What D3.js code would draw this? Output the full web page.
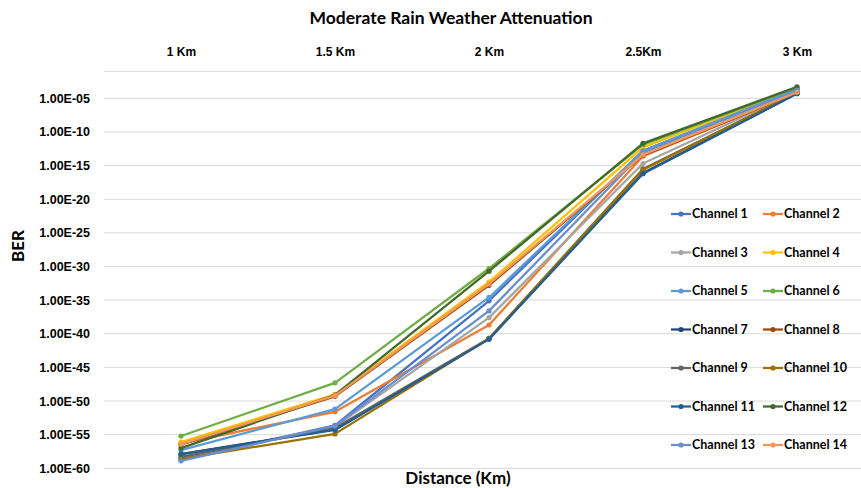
<!DOCTYPE html>
<html>
<head>
<meta charset="utf-8">
<script src="https://cdn.jsdelivr.net/npm/d3@7"></script>
<style>
  body { margin: 0; background: #fff; }
  svg { font-family: Lato, "Open Sans", sans-serif; }
</style>
</head>
<body>
<div id="chart"></div>
<script>
// distances along the top axis
const categories = ['1 Km', '1.5 Km', '2 Km', '2.5Km', '3 Km'];
const channels = ['Channel 1', 'Channel 2', 'Channel 3', 'Channel 4', 'Channel 5', 'Channel 6', 'Channel 7',
  'Channel 8', 'Channel 9', 'Channel 10', 'Channel 11', 'Channel 12', 'Channel 13', 'Channel 14'];

// BER per channel
const ch1  = [2.0e-59, 2.5e-54, 7.9e-36, 1.6e-13, 2.0e-4];
const ch2  = [5.0e-57, 2.5e-52, 2.0e-39, 2.5e-14, 6.3e-5];
const ch3  = [3.2e-59, 1.6e-54, 2.5e-38, 2.0e-15, 1.0e-4];
const ch4  = [7.9e-57, 1.0e-49, 5.0e-33, 5.0e-13, 3.2e-4];
const ch5  = [5.0e-58, 6.3e-52, 2.5e-35, 1.6e-13, 2.5e-4];
const ch6  = [6.3e-56, 5.0e-48, 5.0e-31, 1.3e-12, 4.0e-4];
const ch7  = [1.3e-58, 6.3e-55, 1.6e-41, 7.9e-17, 5.0e-5];
const ch8  = [3.2e-57, 5.0e-50, 1.6e-33, 3.2e-14, 6.3e-5];
const ch9  = [5.0e-59, 1.0e-54, 2.0e-41, 3.2e-16, 6.3e-5];
const ch10 = [2.5e-59, 1.3e-55, 2.0e-41, 2.5e-16, 6.3e-5];
const ch11 = [1.3e-58, 5.0e-55, 1.6e-41, 6.3e-17, 5.0e-5];
const ch12 = [1.0e-57, 7.9e-50, 2.0e-31, 2.0e-12, 5.0e-4];
const ch13 = [1.3e-59, 2.0e-54, 2.5e-37, 7.9e-14, 1.6e-4];
const ch14 = [4.0e-57, 6.3e-50, 2.5e-33, 4.0e-14, 7.9e-5];
const seriesValues = [ch1, ch2, ch3, ch4, ch5, ch6, ch7, ch8, ch9, ch10, ch11, ch12, ch13, ch14];

const yTicks = [1e-5, 1e-10, 1e-15, 1e-20, 1e-25, 1e-30, 1e-35, 1e-40, 1e-45, 1e-50, 1e-55, 1e-60];

const colors = ['#4472C4', '#ED7D31', '#A5A5A5', '#FFC000', '#5B9BD5', '#70AD47', '#264478',
  '#9E480E', '#636363', '#997300', '#255E91', '#43682B', '#698ED0', '#F1975A'];

const width = 861, height = 488;
const plot = { left: 104, right: 874, top: 71.4, bottom: 468.3 };

const svg = d3.select('#chart').append('svg')
  .attr('width', width)
  .attr('height', height);

const x = d3.scalePoint()
  .domain(categories)
  .range([plot.left, plot.right])
  .padding(0.5);

const y = d3.scaleLog()
  .domain([1e-60, 1e-1])
  .range([plot.bottom, plot.top]);

// 1.00E-05 style labels
const fmtExp = v => {
  const e = Math.round(Math.log10(v));
  const sign = e < 0 ? '-' : '+';
  return '1.00E' + sign + String(Math.abs(e)).padStart(2, '0');
};

// gridlines
svg.append('g')
  .selectAll('line')
  .data(yTicks)
  .join('line')
    .attr('x1', plot.left)
    .attr('x2', width)
    .attr('y1', d => y(d))
    .attr('y2', d => y(d))
    .style('stroke', '#D9D9D9')
    .style('stroke-width', 1);

// top category axis
const xAxis = svg.append('g')
  .attr('transform', `translate(0,${plot.top})`)
  .call(d3.axisTop(x).tickSize(0).tickPadding(15));
xAxis.select('.domain')
  .attr('d', `M${plot.left},0H${width}`)
  .style('stroke', '#D9D9D9');
xAxis.selectAll('text')
  .style('font-size', '12px')
  .style('font-weight', 'bold')
  .style('fill', '#000');

// left value axis
const yAxis = svg.append('g')
  .attr('transform', `translate(${plot.left},0)`)
  .call(d3.axisLeft(y).tickValues(yTicks).tickFormat(fmtExp).tickSize(0).tickPadding(14));
yAxis.select('.domain').remove();
yAxis.selectAll('text')
  .style('font-size', '12.5px')
  .style('font-weight', 'bold')
  .style('fill', '#000');

// series
const line = d3.line()
  .x((d, i) => x(categories[i]))
  .y(d => y(d));

const series = svg.append('g')
  .selectAll('g')
  .data(seriesValues)
  .join('g');

series.append('path')
  .attr('d', d => line(d))
  .style('fill', 'none')
  .style('stroke', (d, i) => colors[i])
  .style('stroke-width', 2.25)
  .style('stroke-linejoin', 'round');

series.each(function(vals, i) {
  d3.select(this).selectAll('circle')
    .data(vals)
    .join('circle')
      .attr('cx', (d, j) => x(categories[j]))
      .attr('cy', d => y(d))
      .attr('r', 2.6)
      .style('fill', colors[i]);
});

// titles
svg.append('text')
  .attr('x', 451)
  .attr('y', 24)
  .attr('text-anchor', 'middle')
  .style('font-size', '17.5px')
  .style('font-weight', 'bold')
  .text('Moderate Rain Weather Attenuation');

svg.append('text')
  .attr('x', 458)
  .attr('y', 484)
  .attr('text-anchor', 'middle')
  .style('font-size', '17px')
  .style('font-weight', 'bold')
  .text('Distance (Km)');

svg.append('text')
  .attr('transform', 'translate(24,246) rotate(-90)')
  .attr('text-anchor', 'middle')
  .style('font-size', '17px')
  .style('font-weight', 'bold')
  .text('BER');

// legend, two columns
const legend = svg.append('g')
  .selectAll('g')
  .data(channels)
  .join('g')
    .attr('transform', (d, i) => `translate(${i % 2 === 0 ? 671 : 763},${214 + Math.floor(i / 2) * 38.5})`);

legend.append('line')
  .attr('x1', 0)
  .attr('x2', 20)
  .style('stroke', (d, i) => colors[i])
  .style('stroke-width', 2.25);
legend.append('circle')
  .attr('cx', 10)
  .attr('r', 2.6)
  .style('fill', (d, i) => colors[i]);
legend.append('text')
  .attr('x', 21)
  .attr('dy', '0.35em')
  .style('font-size', '12.5px')
  .style('font-weight', 'bold')
  .text(d => d);
</script>
</body>
</html>
